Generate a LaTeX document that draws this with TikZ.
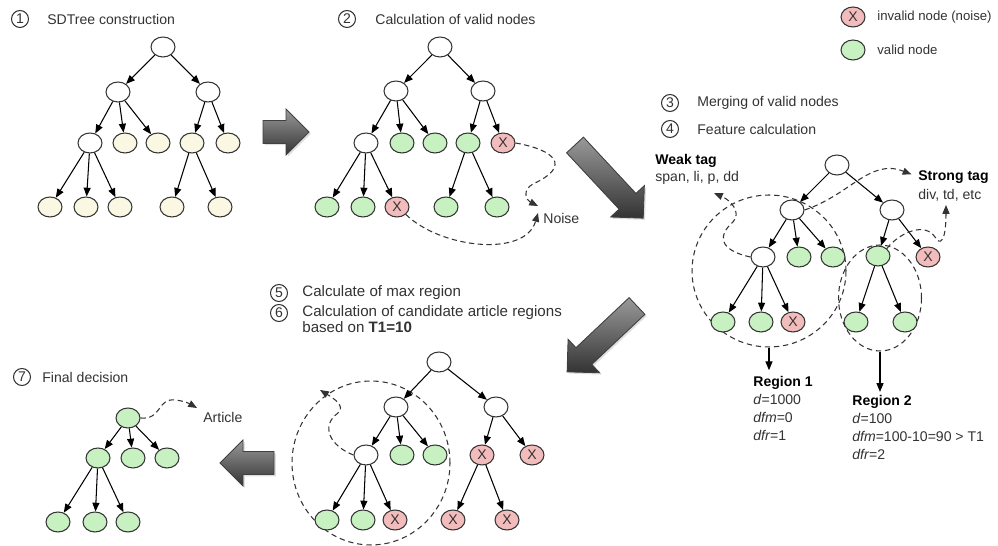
\documentclass[tikz,border=0pt]{standalone}
\usepackage{fontspec}
\setmainfont{Liberation Sans}
\usetikzlibrary{arrows.meta,shapes.geometric,shadows}

\definecolor{cream}{HTML}{FAF7E3}
\definecolor{validgreen}{HTML}{C8F1C2}
\definecolor{invalidred}{HTML}{F3BCBC}
\definecolor{ink}{HTML}{333333}

\tikzset{
	tnode/.style = {ellipse, draw = ink, line width = 0.6pt, minimum width = 0.48cm, minimum height = 0.40cm, inner sep = 0pt, font = \fontsize{8}{8}\selectfont, text = ink},
	plain/.style = {tnode, fill = white},
	leaf/.style = {tnode, fill = cream},
	valid/.style = {tnode, fill = validgreen},
	invalid/.style = {tnode, fill = invalidred},
	edge/.style = {-{Triangle[length = 5pt, width = 4pt]}, line width = 0.6pt},
	hint/.style = {-{Triangle[length = 5pt, width = 4pt]}, draw = ink, line width = 0.6pt, dash pattern = on 3pt off 2pt},
	region/.style = {ellipse, draw = ink, line width = 0.6pt, dash pattern = on 3pt off 2.2pt, inner sep = 0pt},
	num/.style = {circle, draw = ink, line width = 0.6pt, minimum size = 0.34cm, inner sep = 0pt, font = \fontsize{8}{8}\selectfont, text = ink},
	txt/.style = {anchor = west, inner sep = 0pt, font = \fontsize{8}{10}\selectfont, text = ink},
	bigtxt/.style = {txt, font = \fontsize{8.6}{10}\selectfont},
	blockarrow/.style = {top color = black!40, bottom color = black!80, draw = black!75, line width = 0.5pt, drop shadow = {opacity = 0.25, shadow xshift = 1pt, shadow yshift = -1pt}}
}

% gray block arrow: tail point, angle, length
\newcommand{\bigarrow}[3]{%
	\begin{scope}[shift = {#1}, rotate = #2]
		\shade[blockarrow] (0,-11.5) -- ({#3-23},-11.5) -- ({#3-23},-23) -- (#3,0) -- ({#3-23},23) -- ({#3-23},11.5) -- (0,11.5) -- cycle;
	\end{scope}}

\begin{document}
\begin{tikzpicture}[x = 0.02cm, y = -0.02cm]
		\fill[white] (0,0) rectangle (998,546);
		\useasboundingbox (0,0) rectangle (998,546);
		
		% 1: SDTree construction
		\node[num] (n1) at (20,19) {1};
		\node[txt] (t1) at (47,19) {SDTree construction};
		\node[plain] (a0) at (163,47) {};
		\node[plain] (a1) at (118,92) {};
		\node[plain] (a2) at (208,92) {};
		\node[plain] (a11) at (90,143) {};
		\node[leaf] (a12) at (125,143) {};
		\node[leaf] (a13) at (158,143) {};
		\node[leaf] (a21) at (192,143) {};
		\node[leaf] (a22) at (228,143) {};
		\node[leaf] (a111) at (50,207) {};
		\node[leaf] (a112) at (86,207) {};
		\node[leaf] (a113) at (120,207) {};
		\node[leaf] (a211) at (172,207) {};
		\node[leaf] (a212) at (220,207) {};
		\foreach \p/\c in {a0/a1, a0/a2, a1/a11, a1/a12, a1/a13, a2/a21, a2/a22, a11/a111, a11/a112, a11/a113, a21/a211, a21/a212}
			\draw[edge] (\p) -- (\c);
		
		\bigarrow{(263,132)}{0}{46}
		
		% 2: valid nodes
		\node[num] (n2) at (347,19) {2};
		\node[txt] (t2) at (375,19) {Calculation of valid nodes};
		\node[plain] (b0) at (440,47) {};
		\node[plain] (b1) at (396,91) {};
		\node[plain] (b2) at (483,91) {};
		\node[plain] (b11) at (366,143) {};
		\node[valid] (b12) at (402,143) {};
		\node[valid] (b13) at (435,143) {};
		\node[valid] (b21) at (468,143) {};
		\node[invalid] (b22) at (503,143) {X};
		\node[valid] (b111) at (327,207) {};
		\node[valid] (b112) at (363,207) {};
		\node[invalid] (b113) at (397,207) {X};
		\node[valid] (b211) at (446,207) {};
		\node[valid] (b212) at (497,207) {};
		\foreach \p/\c in {b0/b1, b0/b2, b1/b11, b1/b12, b1/b13, b2/b21, b2/b22, b11/b111, b11/b112, b11/b113, b21/b211, b21/b212}
			\draw[edge] (\p) -- (\c);
		\node[txt] (noise) at (543,218) {Noise};
		\coordinate (ntip1) at (538,206);
		\coordinate (ntip2) at (538,213);
		\draw[hint] (b22.east) .. controls (555,150) and (572,166) .. (533,184) .. controls (522,190) and (526,200) .. (ntip1);
		\draw[hint] (b113.south east) .. controls (440,248) and (525,258) .. (ntip2);
		
		% legend
		\node[invalid] (lx) at (853,17) {X};
		\node[txt, font = \fontsize{7.5}{9}\selectfont] at (877,17) {invalid node (noise)};
		\node[valid] (lv) at (853,50) {};
		\node[txt, font = \fontsize{7.5}{9}\selectfont] at (877,50) {valid node};
		
		\bigarrow{(575,145)}{-47}{100}
		
		% 3, 4: merging and features
		\node[num] (n3) at (670,103) {3};
		\node[txt] (t3) at (697,103) {Merging of valid nodes};
		\node[num] (n4) at (670,129) {4};
		\node[txt] (t4) at (697,129) {Feature calculation};
		\node[txt] (weak) at (655,161) {\textbf{\color{black}Weak tag}};
		\node[txt] (weakdesc) at (655,178) {span, li, p, dd};
		\node[txt] (strong) at (918,177) {\textbf{\color{black}Strong tag}};
		\node[txt] (strongdesc) at (918,195) {div, td, etc};
		\node[region, minimum width = 3.08cm, minimum height = 3.04cm] (r1) at (769,271) {};
		\node[region, minimum width = 1.66cm, minimum height = 2.12cm] (r2) at (880,298) {};
		\node[plain] (c0) at (837,165) {};
		\node[plain] (c1) at (792,210) {};
		\node[plain] (c2) at (892,210) {};
		\node[plain] (c11) at (763,257) {};
		\node[valid] (c12) at (799,257) {};
		\node[valid] (c13) at (833,257) {};
		\node[valid] (c21) at (878,256) {};
		\node[invalid] (c22) at (928,257) {X};
		\node[valid] (c111) at (723,322) {};
		\node[valid] (c112) at (761,322) {};
		\node[invalid] (c113) at (793,322) {X};
		\node[valid] (c211) at (856,322) {};
		\node[valid] (c212) at (905,322) {};
		\foreach \p/\c in {c0/c1, c0/c2, c1/c11, c1/c12, c1/c13, c2/c21, c2/c22, c11/c111, c11/c112, c11/c113, c21/c211, c21/c212}
			\draw[edge] (\p) -- (\c);
		\coordinate (wtip) at (714,193);
		\coordinate (stip) at (946,205);
		\draw[hint] (c11.west) .. controls (718,250) and (718,235) .. (733,222) .. controls (742,212) and (730,200) .. (wtip);
		\draw[hint, shorten >= 4pt] (c1.east) .. controls (850,195) and (870,158) .. (strong.west);
		\draw[hint] (c21.north east) .. controls (900,232) and (925,222) .. (935,237) .. controls (940,246) and (946,242) .. (stip);
		\node[txt, anchor = north west, align = left, font = \fontsize{8}{10.4}\selectfont] (reg1) at (753,375.5) {\textbf{\color{black}Region 1}\\\textit{d}=1000\\\textit{dfm}=0\\\textit{dfr}=1};
		\node[txt, anchor = north west, align = left, font = \fontsize{8}{10.4}\selectfont] (reg2) at (852,394.5) {\textbf{\color{black}Region 2}\\\textit{d}=100\\\textit{dfm}=100-10=90 > T1\\\textit{dfr}=2};
		\draw[edge, shorten >= 3pt] (r1.south) -- (r1.south |- reg1.north);
		\draw[edge, shorten >= 1.5pt] (r2.south) -- (r2.south |- reg2.north);
		
		\bigarrow{(637,306)}{-136.7}{96}
		
		% 5, 6: max region and candidates
		\node[num] (n5) at (279,293) {5};
		\node[bigtxt] (t5) at (302,293) {Calculate of max region};
		\node[num] (n6) at (279,313) {6};
		\node[bigtxt] (t6) at (302,313) {Calculation of candidate article regions};
		\node[bigtxt] (t6b) at (302,327) {based on \textbf{T1=10}};
		\node[region, minimum width = 3.16cm, minimum height = 3.28cm] (r3) at (371,463) {};
		\node[plain] (d0) at (439,362) {};
		\node[plain] (d1) at (396,407) {};
		\node[plain] (d2) at (496,407) {};
		\node[plain] (d11) at (366,455) {};
		\node[valid] (d12) at (402,455) {};
		\node[valid] (d13) at (435,455) {};
		\node[invalid] (d21) at (482,455) {X};
		\node[invalid] (d22) at (532,455) {X};
		\node[valid] (d111) at (327,520) {};
		\node[valid] (d112) at (363,520) {};
		\node[invalid] (d113) at (395,520) {X};
		\node[invalid] (d211) at (453,520) {X};
		\node[invalid] (d212) at (507,520) {X};
		\foreach \p/\c in {d0/d1, d0/d2, d1/d11, d1/d12, d1/d13, d2/d21, d2/d22, d11/d111, d11/d112, d11/d113, d21/d211, d21/d212}
			\draw[edge] (\p) -- (\c);
		\coordinate (dtip) at (320,390);
		\draw[hint] (d11.west) .. controls (330,446) and (320,426) .. (338,413) .. controls (346,406) and (333,398) .. (dtip);
		
		\bigarrow{(274,463)}{180}{54}
		
		% 7: final decision
		\node[num] (n7) at (22,377) {7};
		\node[txt] (t7) at (42,377) {Final decision};
		\node[valid] (e0) at (128,418) {};
		\node[valid] (e1) at (98,458) {};
		\node[valid] (e2) at (133,458) {};
		\node[valid] (e3) at (167,458) {};
		\node[valid] (e11) at (58,522) {};
		\node[valid] (e12) at (95,522) {};
		\node[valid] (e13) at (128,522) {};
		\foreach \p/\c in {e0/e1, e0/e2, e0/e3, e1/e11, e1/e12, e1/e13}
			\draw[edge] (\p) -- (\c);
		\node[txt] (article) at (203,417) {Article};
		\coordinate (atip) at (197,408);
		\draw[hint] (e0.east) .. controls (162,420) and (157,398) .. (175,400) .. controls (185,401) and (190,404) .. (atip);
\end{tikzpicture}
\end{document}
